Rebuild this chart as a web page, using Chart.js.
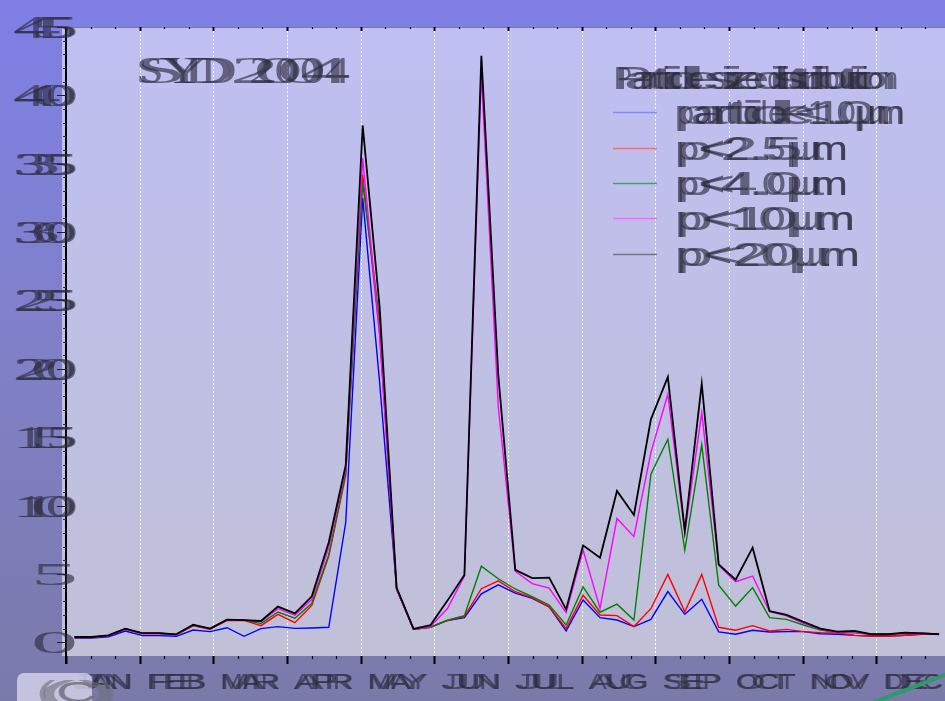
<!DOCTYPE html>
<html>
<head>
<meta charset="utf-8">
<script src="https://cdn.jsdelivr.net/npm/chart.js@4/dist/chart.umd.min.js"></script>
<style>
  html, body { margin: 0; padding: 0; overflow: hidden; background: #7f7fd6; }
  #wrap { position: relative; width: 960px; height: 701px; }
</style>
</head>
<body>
<div id="wrap"><canvas id="c" width="960" height="701"></canvas></div>
<script>
// ---- data ----
const months = ['JAN','FEB','MAR','APR','MAY','JUN','JUL','AUG','SEP','OCT','NOV','DEC'];
const yTicks = [0, 5, 10, 15, 20, 25, 30, 35, 40, 45];
const chartTitle = 'SYD 2004';
const legendTitle = 'Particle size distribution';
const seriesNames = ['particle<1.0µm', 'p<2.5µm', 'p<4.0µm', 'p<10µm', 'p<20µm'];
const seriesColors = ['#0000ff', '#ff0000', '#008000', '#ff00ff', '#000000'];
const legendColors = ['#8585ff', '#ff6a6a', '#4f9a6a', '#ff66ff', '#767686'];

// week number of each sample (1..52)
const weeks = Array.from({ length: 52 }, (_, i) => i + 1);

const pm1 = [0.31,0.31,0.41,0.83,0.49,0.49,0.44,0.90,0.78,1.07,0.44,1.00,1.15,1.02,1.05,1.10,
  8.76,32.5,19.0,3.90,0.95,1.10,1.60,1.80,3.55,4.20,3.60,3.22,2.60,0.83,3.10,1.80,1.63,1.15,1.68,
  3.71,2.05,3.15,0.76,0.59,0.88,0.76,0.78,0.78,0.63,0.59,0.51,0.46,0.46,0.52,0.59,0.59];
const pm25 = [0.35,0.35,0.48,0.95,0.62,0.64,0.55,1.20,0.95,1.61,1.60,1.22,2.05,1.44,2.70,6.30,
  12.2,34.2,22.5,3.90,0.95,1.10,1.60,1.90,3.92,4.50,3.70,3.27,2.60,1.00,3.44,2.00,1.95,1.15,2.46,
  4.97,2.24,4.97,1.10,0.88,1.22,0.83,0.95,0.78,0.71,0.68,0.51,0.46,0.46,0.52,0.60,0.59];
const pm4 = [0.37,0.37,0.50,1.00,0.66,0.66,0.57,1.25,0.98,1.63,1.62,1.37,2.22,1.76,2.85,6.40,
  12.4,33.6,23.5,3.90,0.95,1.12,1.62,1.95,5.57,4.65,3.90,3.35,2.73,1.27,4.05,2.20,2.79,1.63,12.29,
  14.85,6.75,14.44,4.17,2.65,4.00,1.80,1.68,1.27,0.90,0.71,0.70,0.59,0.59,0.66,0.66,0.59];
const pm10 = [0.38,0.38,0.50,1.00,0.67,0.67,0.57,1.27,0.99,1.65,1.63,1.50,2.46,1.98,3.15,6.94,
  12.7,35.4,22.5,3.90,0.95,1.15,2.47,4.85,41.6,17.2,5.20,4.29,3.97,2.17,6.75,2.49,9.05,7.73,13.87,
  18.14,7.97,16.8,5.63,4.44,4.85,2.24,1.93,1.39,0.95,0.71,0.75,0.59,0.59,0.69,0.66,0.59];
const pm20 = [0.39,0.39,0.51,1.00,0.68,0.68,0.58,1.29,1.00,1.66,1.63,1.56,2.61,2.12,3.36,7.32,
  12.95,37.8,24.5,4.00,0.98,1.26,3.05,4.93,42.9,19.5,5.30,4.70,4.73,2.41,7.09,6.19,11.07,9.31,16.31,
  19.41,8.15,18.92,5.70,4.58,6.92,2.29,2.00,1.49,1.00,0.78,0.83,0.59,0.59,0.71,0.66,0.59];
const seriesValues = [pm1, pm25, pm4, pm10, pm20];

// ---- helpers ----
// position of a week's midpoint on a month axis (0..12)
const weekToMonth = w => (w - 0.5) * 7 / 365 * 12;

const TEXT = 'rgba(44,44,62,0.64)';

// Text squeezed/stretched into the box [x0,x1]; drawn twice (whole string and widened glyphs)
function fitText(ctx, text, x0, x1, base, px, family, color, glyphW) {
  ctx.save();
  ctx.font = px + 'px ' + family;
  ctx.fillStyle = color;
  ctx.textAlign = 'left';
  ctx.textBaseline = 'alphabetic';
  const span = x1 - x0;
  const w = ctx.measureText(text).width;
  ctx.save();
  ctx.translate(x0, base);
  ctx.scale(span / w, 1);
  ctx.fillText(text, 0, 0);
  ctx.restore();
  const n = text.length;
  if (n > 1) {
    const gw = Math.min(glyphW, span);
    const step = (span - gw) / (n - 1);
    for (let i = 0; i < n; i++) {
      const ch = text[i];
      if (ch === ' ') continue;
      const cw = ctx.measureText(ch).width || 1;
      ctx.save();
      ctx.translate(x0 + i * step, base);
      ctx.scale(gw / cw, 1);
      ctx.fillText(ch, 0, 0);
      ctx.restore();
    }
  }
  ctx.restore();
}

const decor = {
  id: 'decor',
  beforeDraw(chart) {
    const { ctx, chartArea: a, width, height } = chart;
    ctx.save();
    // page background
    let g = ctx.createLinearGradient(0, 0, 0, height);
    g.addColorStop(0, '#7f7fe6');
    g.addColorStop(0.5, '#8080c8');
    g.addColorStop(1, '#7a7aaa');
    ctx.fillStyle = g;
    ctx.fillRect(0, 0, width, height);
    // plot background
    g = ctx.createLinearGradient(0, a.top, 0, a.bottom);
    g.addColorStop(0, '#bfbff2');
    g.addColorStop(1, '#c0c0d8');
    ctx.fillStyle = g;
    ctx.fillRect(a.left - 4, a.top, a.right - a.left + 4, a.bottom - a.top);
    // month grid lines
    const xs = chart.scales.x;
    ctx.strokeStyle = 'rgba(255,255,255,0.95)';
    ctx.lineWidth = 1;
    ctx.setLineDash([2, 2]);
    for (let m = 1; m < 12; m++) {
      const x = Math.round(xs.getPixelForValue(m)) + 0.5;
      ctx.beginPath(); ctx.moveTo(x, a.top); ctx.lineTo(x, a.bottom); ctx.stroke();
    }
    ctx.restore();
  },
  afterDatasetsDraw(chart) {
    const { ctx, chartArea: a } = chart;
    const xs = chart.scales.x, ys = chart.scales.y;
    ctx.save();
    // top border
    ctx.strokeStyle = 'rgba(90,90,120,0.7)';
    ctx.lineWidth = 1;
    ctx.beginPath(); ctx.moveTo(a.left, a.top + 0.5); ctx.lineTo(a.right, a.top + 0.5); ctx.stroke();
    // x ticks (bottom and top), thirds of a month
    ctx.strokeStyle = '#000';
    for (let t = 0; t <= 36; t++) {
      const major = t % 3 === 0;
      const x = Math.round(xs.getPixelForValue(t / 3)) + 0.5;
      ctx.lineWidth = major ? 2 : 1.2;
      ctx.beginPath(); ctx.moveTo(x, a.bottom); ctx.lineTo(x, a.bottom + (major ? 8 : 3)); ctx.stroke();
      ctx.beginPath(); ctx.moveTo(x, a.top); ctx.lineTo(x, a.top + (major ? 4 : 2)); ctx.stroke();
    }
    // y axis line and ticks
    ctx.lineWidth = 2;
    ctx.beginPath(); ctx.moveTo(a.left, a.top); ctx.lineTo(a.left, a.bottom + 8); ctx.stroke();
    for (let v = 0; v <= 45; v++) {
      const y = Math.round(ys.getPixelForValue(v)) + 0.5;
      const major = v % 5 === 0;
      ctx.lineWidth = 1;
      ctx.strokeStyle = major ? '#222' : '#333';
      ctx.beginPath(); ctx.moveTo(a.left - (major ? 9 : 3), y); ctx.lineTo(a.left, y); ctx.stroke();
    }
    // y tick labels
    yTicks.forEach(v => {
      const y = ys.getPixelForValue(v);
      const s = String(v);
      const x0 = s.length > 1 ? 13 : 31;
      fitText(ctx, s, x0, 78, y + 11, 31, '"Liberation Serif", serif', TEXT, 48);
    });
    // month labels
    months.forEach((m, i) => {
      const c = xs.getPixelForValue(i + 0.5);
      fitText(ctx, m, c - 30, c + 30, 689, 22, '"Liberation Sans", sans-serif', TEXT, 30);
    });
    // title
    fitText(ctx, chartTitle, 136, 350, 83, 37, '"Liberation Serif", serif', TEXT, 50);
    // legend
    fitText(ctx, legendTitle, 614, 898, 89, 31, '"Liberation Sans", sans-serif', TEXT, 38);
    const rows = [112, 148, 183, 218, 254];
    const ends = [905, 848, 848, 855, 860];
    seriesNames.forEach((n, i) => {
      ctx.strokeStyle = legendColors[i];
      ctx.lineWidth = 1.5;
      ctx.beginPath(); ctx.moveTo(613, rows[i] + 0.5); ctx.lineTo(657, rows[i] + 0.5); ctx.stroke();
      fitText(ctx, n, 675, ends[i], rows[i] + 12, 34, '"Liberation Sans", sans-serif', TEXT, 38);
    });
    // corner mark
    ctx.fillStyle = 'rgba(214,214,236,0.8)';
    ctx.beginPath(); ctx.roundRect(17, 673, 75, 40, 7); ctx.fill();
    fitText(ctx, '(C)', 36, 117, 702, 30, '"Liberation Sans", sans-serif', 'rgba(110,110,122,0.6)', 40);
    ctx.strokeStyle = '#2e9a66';
    ctx.lineWidth = 4;
    ctx.beginPath(); ctx.moveTo(872, 703); ctx.lineTo(950, 673); ctx.stroke();
    ctx.restore();
  }
};

new Chart(document.getElementById('c'), {
  type: 'line',
  data: {
    datasets: seriesValues.map((vals, i) => ({
      label: seriesNames[i],
      data: weeks.map((w, k) => ({ x: weekToMonth(w), y: vals[k] })),
      borderColor: seriesColors[i],
      borderWidth: i === 4 ? 1.8 : 1.4,
      pointRadius: 0,
      tension: 0,
      order: 4 - i
    }))
  },
  options: {
    responsive: false,
    animation: false,
    layout: { padding: { left: 66, top: 27, right: 10, bottom: 45 } },
    scales: {
      x: { type: 'linear', display: false, min: 0, max: 12 },
      y: { display: false, min: -1, max: 45 }
    },
    plugins: { legend: { display: false }, tooltip: { enabled: false } }
  },
  plugins: [decor]
});
</script>
</body>
</html>
